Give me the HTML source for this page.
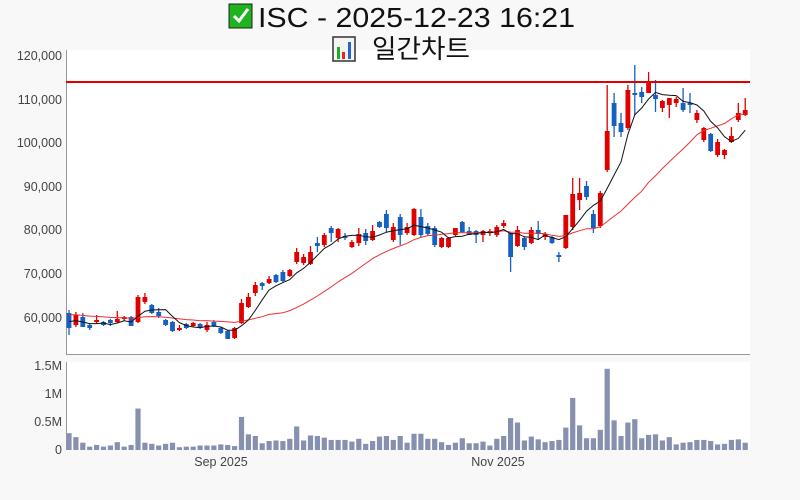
<!DOCTYPE html>
<html><head><meta charset="utf-8"><style>
body{margin:0;width:800px;height:500px;background:#f8f8f8;overflow:hidden;font-family:"Liberation Sans","Noto Sans CJK KR",sans-serif}
svg{position:absolute;left:0;top:0}
</style></head><body>
<svg id="s" width="800" height="500" xmlns="http://www.w3.org/2000/svg">
<rect x="66" y="50" width="684" height="304" fill="#fff"/>
<rect x="66" y="362" width="684" height="88" fill="#fff"/>
<line x1="66.5" y1="50" x2="66.5" y2="354" stroke="#999"/>
<line x1="66" y1="354.5" x2="750" y2="354.5" stroke="#999"/>
<line x1="66.5" y1="362" x2="66.5" y2="450" stroke="#999"/>
<g font-size="12.5" fill="#444" text-anchor="end" font-family="Liberation Sans,sans-serif">
<text x="62" y="60">120,000</text><text x="62" y="104">110,000</text><text x="62" y="147">100,000</text>
<text x="62" y="191">90,000</text><text x="62" y="234">80,000</text><text x="62" y="278">70,000</text><text x="62" y="322">60,000</text>
<text x="62" y="370">1.5M</text><text x="62" y="398">1M</text><text x="62" y="426">0.5M</text><text x="62" y="454">0</text>
</g>
<g font-size="12.5" fill="#444" text-anchor="middle"><text x="221" y="466">Sep 2025</text><text x="498" y="466">Nov 2025</text></g>
<g fill="#111">
<rect x="229" y="4" width="23" height="24" fill="#1fb31f" stroke="#222" stroke-width="1"/>
<path d="M234 16 l5 5 l9 -12" stroke="#fff" stroke-width="3" fill="none"/>
<text x="258" y="27" font-size="28" textLength="317" lengthAdjust="spacingAndGlyphs">ISC - 2025-12-23 16:21</text>
<rect x="333" y="37" width="22" height="24" fill="#f4f4f4" stroke="#333" stroke-width="1.5"/>
<rect x="337" y="47" width="3" height="12" fill="#2a2"/><rect x="342" y="52" width="3" height="7" fill="#e22"/><rect x="348" y="42" width="3" height="17" fill="#26c"/>
<text x="372" y="58" font-size="26" textLength="98" lengthAdjust="spacingAndGlyphs">일간차트</text>
</g>
<g id="g"></g>
</svg>
<script>
var d=[
"B313,328,310,335","R315,325,312,327","B317,327,313,327","B325,328,323,330","R320,322,315,323","B322,325,321,326","B320,323,319,326","R319,322,311,323","R317,319,316,321","B317,326,316,326",
"R297,322,295,323","R297,302,293,304","B305,313,304,314","B312,316,308,318","B320,325,319,326","B322,331,321,332","R328,330,325,331","B324,328,323,329","R323,326,322,327","B324,328,323,329",
"R325,330,322,332","B322,326,320,327","B328,333,327,334","B331,339,330,339","R328,338,327,339","R303,323,299,324","R297,307,293,308","R285,293,282,296","B283,286,282,290","R279,283,276,284",
"B275,282,274,283","B272,281,270,282","R270,276,269,277","R252,262,248,264","R257,263,254,265","R252,264,246,265","B243,246,237,252","R235,245,233,247","B228,233,226,242","R229,238,228,242",
"B236,238,233,240","R242,247,240,248","R234,243,228,246","B233,241,229,245","R231,240,225,241","B222,227,221,228","B214,228,210,232","R227,240,223,242","B217,235,214,245","R227,233,223,235",
"R209,235,208,236","B217,235,209,237","B226,234,223,236","B228,245,226,247","R238,247,237,248","R238,247,237,248","R228,235,228,236","B222,232,221,233","B231,235,227,235","B231,235,230,243",
"R231,235,230,242","R231,233,229,236","R227,235,225,237","R223,226,220,228","B233,257,232,272","R230,246,226,247","B238,247,237,250","R230,243,227,244","B230,234,221,240","R234,237,232,240",
"B237,243,236,244","B255,257,252,262","R215,248,215,249","R194,227,178,230","R193,200,178,210","B186,197,181,200","B214,228,210,233","R193,226,191,228","R131,170,85,172","B103,126,93,137",
"B123,132,113,137","R90,128,85,130","B93,95,65,115","B92,97,87,103","R81,93,72,93","B95,99,80,112","R101,108,100,112","R98,105,98,118","R99,103,97,107","B103,110,88,112",
"B103,105,93,113","R113,120,110,123","R128,140,127,142","B134,151,133,152","R142,155,139,157","R150,155,149,159","R136,142,127,143","R113,120,103,122","R110,115,98,116"];
var v=[0.30,0.23,0.13,0.06,0.09,0.06,0.08,0.14,0.06,0.09,0.74,0.13,0.11,0.08,0.11,0.13,0.05,0.06,0.06,0.08,0.08,0.08,0.10,0.09,0.07,0.59,0.28,0.25,0.12,0.16,0.17,0.16,0.20,0.42,0.17,0.26,0.25,0.22,0.18,0.18,0.18,0.15,0.20,0.11,0.16,0.24,0.25,0.18,0.25,0.13,0.29,0.29,0.20,0.20,0.14,0.09,0.13,0.21,0.12,0.12,0.15,0.08,0.20,0.25,0.57,0.49,0.17,0.24,0.19,0.14,0.16,0.18,0.40,0.93,0.44,0.21,0.21,0.36,1.45,0.53,0.25,0.49,0.55,0.21,0.27,0.28,0.17,0.23,0.10,0.13,0.14,0.18,0.18,0.16,0.10,0.11,0.18,0.19,0.13];
var h='',cl=[];
d.forEach(function(s,i){var c=s[0],a=s.slice(1).split(',').map(Number),x=69+i*6.9,col=c=='R'?'#e00000':'#1560c0';
cl.push(c=='R'?a[0]:a[1]);
h+='<line x1="'+x+'" y1="'+a[2]+'" x2="'+x+'" y2="'+a[3]+'" stroke="'+col+'" stroke-width="1.3"/>';
h+='<rect x="'+(x-2.4)+'" y="'+a[0]+'" width="4.8" height="'+Math.max(1.5,a[1]-a[0])+'" fill="'+col+'"/>';});
v.forEach(function(q,i){var x=69+i*6.9,hh=q*56;h+='<rect x="'+(x-2.6)+'" y="'+(450-hh)+'" width="5.2" height="'+hh+'" fill="#8890b0"/>';});
function ma(n,pad){var p=[];for(var i=0;i<cl.length;i++){var s=0;for(var k=i-n+1;k<=i;k++)s+=k<0?pad:cl[k];p.push((69+i*6.9).toFixed(1)+','+(s/n).toFixed(1));}return p.join(' ');}
h+='<polyline points="'+ma(20,314)+'" fill="none" stroke="#f03030" stroke-width="1"/>';
h+='<polyline points="'+ma(5,320)+'" fill="none" stroke="#111" stroke-width="1"/>';
h+='<line x1="66" y1="82" x2="750" y2="82" stroke="#e00000" stroke-width="2"/>';
document.getElementById('g').innerHTML=h;
</script>
</body></html>
